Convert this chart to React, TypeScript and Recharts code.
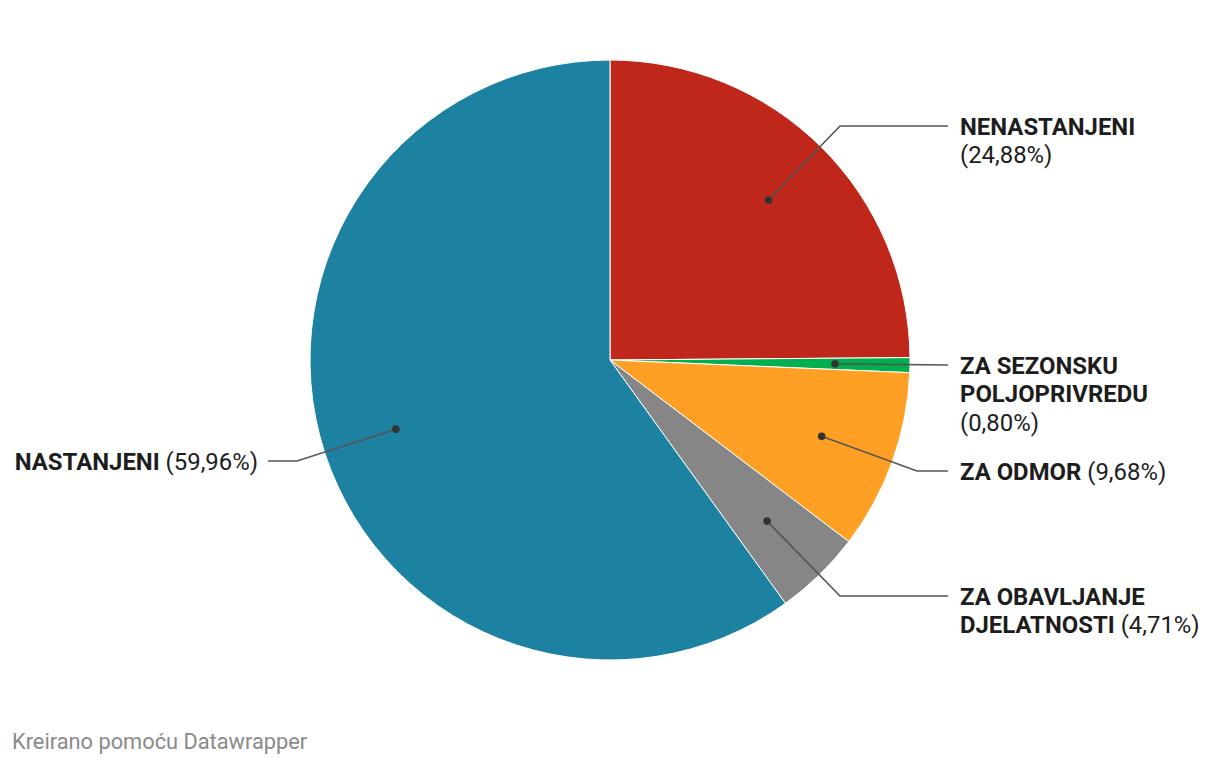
import React from "react";
import { PieChart, Pie, Cell } from "recharts";

const categories = [
  "NENASTANJENI",
  "ZA SEZONSKU POLJOPRIVREDU",
  "ZA ODMOR",
  "ZA OBAVLJANJE DJELATNOSTI",
  "NASTANJENI",
];
const values = [24.88, 0.8, 9.68, 4.71, 59.96];
const colors = ["#c0271b", "#00b04f", "#ffa024", "#868686", "#1d82a2"];

// label text wrapping (which words sit on which line) and leader layout
const labelLines: string[][] = [
  ["NENASTANJENI", "%"],
  ["ZA SEZONSKU", "POLJOPRIVREDU", "%"],
  ["ZA ODMOR %"],
  ["ZA OBAVLJANJE", "DJELATNOSTI %"],
  ["NASTANJENI %"],
];
const labelLayout = [
  { lineY: 126, elbowX: 840, endX: 948, side: "right" },
  { lineY: 365, elbowX: 948, endX: 948, side: "right" },
  { lineY: 471, elbowX: 917, endX: 948, side: "right" },
  { lineY: 596, elbowX: 840, endX: 948, side: "right" },
  { lineY: 461, elbowX: 297, endX: 268, side: "left" },
];

const data = categories.map((name, i) => ({ name, value: values[i] }));
const RAD = Math.PI / 180;
const fmt = (v: number) => "(" + v.toFixed(2).replace(".", ",") + "%)";

const renderLabel = (props: any) => {
  const { cx, cy, midAngle, outerRadius, index } = props;
  const r = outerRadius * 0.75;
  const dx = cx + r * Math.cos(-midAngle * RAD);
  const dy = cy + r * Math.sin(-midAngle * RAD);
  const L = labelLayout[index];
  const right = L.side === "right";
  const textX = right ? L.endX + 12 : L.endX - 10;
  const baseY = L.lineY + 8.5;
  const pct = fmt(values[index]);
  return (
    <g key={"lbl" + index}>
      <polyline
        points={`${dx},${dy} ${L.elbowX},${L.lineY} ${L.endX},${L.lineY}`}
        fill="none"
        stroke="#555"
        strokeWidth={1.6}
      />
      <circle cx={dx} cy={dy} r={3.8} fill="#333" />
      <text
        x={textX}
        y={baseY}
        textAnchor={right ? "start" : "end"}
        fontFamily="Roboto, sans-serif"
        fontSize={23.9}
        fill="#1d1d1d"
      >
        {labelLines[index].map((line, li) => {
          const parts = line.split("%");
          const hasPct = line.includes("%");
          const boldPart = parts[0].trim();
          return (
            <tspan key={li} x={textX} dy={li === 0 ? 0 : 28.5}>
              {boldPart && <tspan fontWeight={700}>{boldPart}</tspan>}
              {hasPct && (
                <tspan fontWeight={400}>{(boldPart ? " " : "") + pct}</tspan>
              )}
            </tspan>
          );
        })}
      </text>
    </g>
  );
};

export default function App() {
  return (
    <div style={{ position: "absolute", left: 0, top: 0, width: 1220, height: 766, background: "#fff" }}>
      <PieChart width={1220} height={766} margin={{ top: 0, right: 0, bottom: 0, left: 0 }}>
        <Pie
          data={data}
          dataKey="value"
          nameKey="name"
          cx={610}
          cy={360}
          outerRadius={300}
          startAngle={90}
          endAngle={-270}
          stroke="#fff"
          strokeWidth={1}
          label={renderLabel}
          labelLine={false}
          isAnimationActive={false}
        >
          {data.map((d, i) => (
            <Cell key={d.name} fill={colors[i]} />
          ))}
        </Pie>
        <text
          x={12}
          y={749}
          fontFamily="Roboto, sans-serif"
          fontSize={21.8}
          fill="#8a8a8a"
        >
          Kreirano pomoću Datawrapper
        </text>
      </PieChart>
    </div>
  );
}
